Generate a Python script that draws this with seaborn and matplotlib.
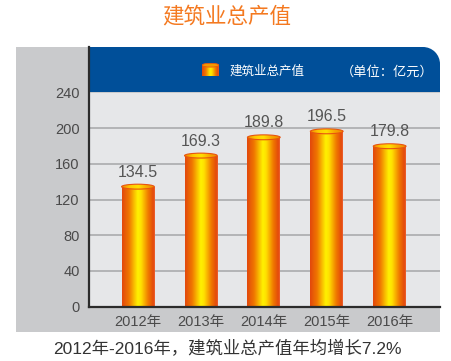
import numpy as np
import pandas as pd
import seaborn as sns
import matplotlib.pyplot as plt
from matplotlib.colors import LinearSegmentedColormap
from matplotlib.patches import Rectangle, Ellipse, Circle
from matplotlib.transforms import Affine2D

years = ["2012年", "2013年", "2014年", "2015年", "2016年"]
values = [134.5, 169.3, 189.8, 196.5, 179.8]
yticks = [0, 40, 80, 120, 160, 200, 240]

title = "建筑业总产值"
series_name = "建筑业总产值"
unit_text = "（单位：亿元）"
caption = "2012年-2016年，建筑业总产值年均增长7.2%"

df = pd.DataFrame({"year": years, "value": values})

sns.set_style("white")
plt.rcParams["font.family"] = ["Liberation Sans", "Noto Sans CJK SC", "DejaVu Sans"]

W, H = 452, 361
fig = plt.figure(figsize=(W / 100, H / 100), dpi=100)
# pixel coords measured from the top-left corner
px = Affine2D().scale(1 / W, -1 / H).translate(0, 1) + fig.transFigure

panel_gray = "#c9cacc"
plot_gray = "#e6e7e9"
blue = "#004f99"

# background panel
for r in [Rectangle((16, 92), 424, 240), Rectangle((16, 47), 80, 50)]:
    r.set_transform(px)
    r.set_facecolor(panel_gray)
    r.set_edgecolor("none")
    r.set_zorder(-2)
    fig.add_artist(r)

# blue header with rounded top-right corner
rad = 17
for p in [Rectangle((89.5, 47), 440 - rad - 89.5, 45),
          Rectangle((89.5, 47 + rad), 440 - 89.5, 45 - rad),
          Circle((440 - rad, 47 + rad), rad)]:
    p.set_transform(px)
    p.set_facecolor(blue)
    p.set_edgecolor("none")
    p.set_zorder(-1)
    fig.add_artist(p)

ax = fig.add_axes([89.5 / W, 1 - 306.7 / H, (440 - 89.5) / W, (306.7 - 47) / H])
ax.set_facecolor("none")
ytop = 240 * (306.7 - 47) / (306.7 - 92.5)

sns.barplot(data=df, x="year", y="value", ax=ax, width=0.52,
            color="#f39200", saturation=1)

ax.set_ylim(0, ytop)
ax.set_xlim(-0.77, 4.8)
ax.axhspan(0, 240, color=plot_gray, zorder=0, lw=0)
ax.set_yticks(yticks)
for t in yticks[1:-1]:
    ax.axhline(t, color="#a5a6a8", lw=1.1, zorder=1)

bar_cmap = LinearSegmentedColormap.from_list(
    "cyl", [(0, "#e2470c"), (0.22, "#f07800"), (0.48, "#fff200"),
            (0.58, "#ffe000"), (0.8, "#f07800"), (0.96, "#e2470c"),
            (1, "#f06a3a")])
cap_cmap = LinearSegmentedColormap.from_list(
    "cap", ["#f08a00", "#ffc800", "#ffe000", "#f7a600", "#f08a00"])
grad = np.linspace(0, 1, 256).reshape(1, -1)
cap_h = 5.5

for patch, v in zip(ax.patches, values):
    x0, w, h = patch.get_x(), patch.get_width(), patch.get_height()
    patch.set_facecolor("none")
    patch.set_edgecolor("none")
    im = ax.imshow(grad, cmap=bar_cmap, extent=[x0, x0 + w, 0, h],
                   aspect="auto", zorder=3, interpolation="bicubic")
    clip = Rectangle((x0, 0), w, h, transform=ax.transData)
    im.set_clip_path(clip)
    cap = Ellipse((x0 + w / 2, h), w, cap_h, facecolor="none",
                  edgecolor="#e8550f", lw=0.8, zorder=5)
    ax.add_patch(cap)
    im2 = ax.imshow(grad, cmap=cap_cmap,
                    extent=[x0, x0 + w, h - cap_h / 2, h + cap_h / 2],
                    aspect="auto", zorder=4, interpolation="bicubic")
    im2.set_clip_path(cap)
    ax.annotate(f"{v:.1f}", (x0 + w / 2, h), xytext=(0, 5),
                textcoords="offset points", ha="center", va="bottom",
                fontsize=11.5, color="#555555")

ax.set_ylim(0, ytop)
ax.set_xlim(-0.77, 4.8)
ax.set_xlabel("")
ax.set_ylabel("")
ax.tick_params(axis="both", length=0, labelsize=10.5, colors="#4a4a4a")
ax.tick_params(axis="x", pad=6)
ax.tick_params(axis="y", pad=7)
for s in ["top", "right"]:
    ax.spines[s].set_visible(False)
for s in ["left", "bottom"]:
    ax.spines[s].set_color("#2b2b2b")
    ax.spines[s].set_linewidth(1.6)
    ax.spines[s].set_zorder(6)

# legend inside header
icon = fig.add_axes([202 / W, 1 - 76 / H, 17 / W, 13 / H])
icon.imshow(grad, cmap=bar_cmap, extent=[0, 1, 0, 0.85], aspect="auto",
            interpolation="bicubic")
icon.add_patch(Ellipse((0.5, 0.85), 1, 0.3, facecolor="#f39a00",
                       edgecolor="#e8550f", lw=0.6))
icon.set_xlim(0, 1)
icon.set_ylim(0, 1.02)
icon.axis("off")

fig.text(230 / W, 1 - 72 / H, series_name, color="white", fontsize=9,
         va="center", ha="left")
fig.text(434 / W, 1 - 72 / H, unit_text, color="white", fontsize=9.5,
         va="center", ha="right")

fig.text(227 / W, 1 - 17 / H, title, color="#f47920", fontsize=15.5,
         ha="center", va="center")
fig.text(227 / W, 1 - 349 / H, caption, color="#333333", fontsize=12.5,
         ha="center", va="center")

fig.savefig("out.png", dpi=100)
